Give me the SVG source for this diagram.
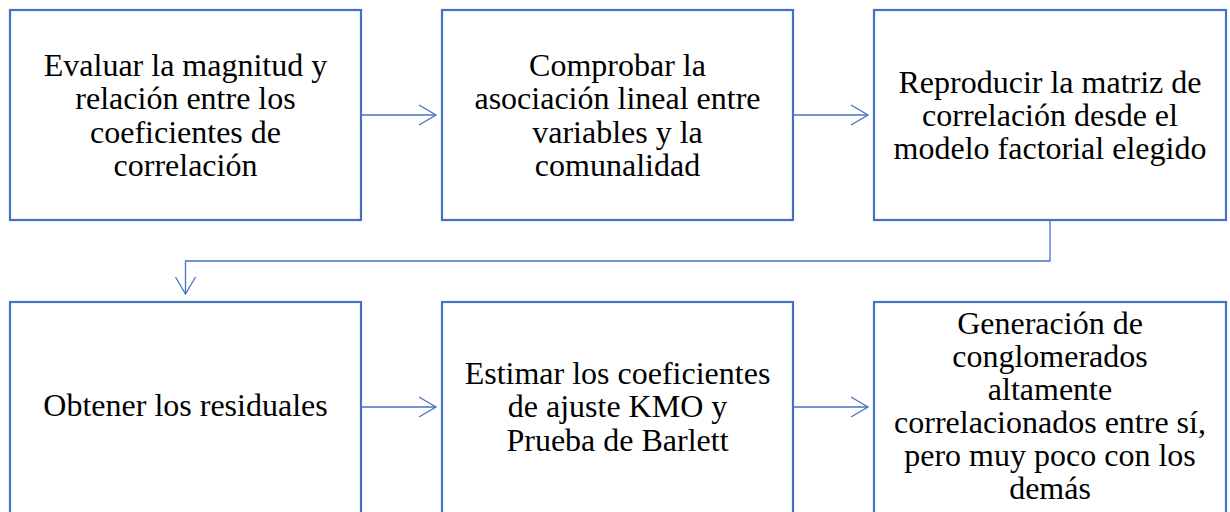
<svg xmlns="http://www.w3.org/2000/svg" width="1230" height="512" viewBox="0 0 1230 512">
<defs>
<marker id="arr" markerUnits="userSpaceOnUse" markerWidth="24" markerHeight="24" viewBox="-20 -12 24 24" refX="0" refY="0" orient="auto">
<path d="M-17,-10 L0,0 L-17,10" fill="none" stroke="#4472C4" stroke-width="1.3"/>
</marker>
</defs>
<style>
.box{fill:#fff;stroke:#4472C4;stroke-width:2.2}
.t{font-family:"Liberation Serif","Times New Roman",serif;font-size:32px;fill:#000;text-anchor:middle}
.c{fill:none;stroke:#4472C4;stroke-width:1.3;marker-end:url(#arr)}
</style>
<rect width="1230" height="512" fill="#fff"/>
<g id="connectors">
<path class="c" d="M361,115 H436"/>
<path class="c" d="M793,115 H868"/>
<path class="c" d="M1050,221 V261 H185.5 V294"/>
<path class="c" d="M361,407 H436"/>
<path class="c" d="M793,407 H868"/>
</g>
<g id="n1">
<rect class="box" x="10" y="10" width="351" height="210"/>
<text class="t" x="185.5" y="76">Evaluar la magnitud y</text>
<text class="t" x="185.5" y="109.3">relación entre los</text>
<text class="t" x="185.5" y="142.6">coeficientes de</text>
<text class="t" x="185.5" y="176">correlación</text>
</g>
<g id="n2">
<rect class="box" x="442" y="10" width="351" height="210"/>
<text class="t" x="617.5" y="76">Comprobar la</text>
<text class="t" x="617.5" y="109.3">asociación lineal entre</text>
<text class="t" x="617.5" y="142.6">variables y la</text>
<text class="t" x="617.5" y="176">comunalidad</text>
</g>
<g id="n3">
<rect class="box" x="874" y="10" width="352" height="210"/>
<text class="t" x="1050" y="92.5">Reproducir la matriz de</text>
<text class="t" x="1050" y="125.8">correlación desde el</text>
<text class="t" x="1050" y="159.1">modelo factorial elegido</text>
</g>
<g id="n4">
<rect class="box" x="10" y="302" width="351" height="212"/>
<text class="t" x="185.5" y="416">Obtener los residuales</text>
</g>
<g id="n5">
<rect class="box" x="442" y="302" width="351" height="212"/>
<text class="t" x="617.5" y="384">Estimar los coeficientes</text>
<text class="t" x="617.5" y="417.3">de ajuste KMO y</text>
<text class="t" x="617.5" y="450.6">Prueba de Barlett</text>
</g>
<g id="n6">
<rect class="box" x="874" y="302" width="352" height="212"/>
<text class="t" x="1050" y="333.5">Generación de</text>
<text class="t" x="1050" y="366.5">conglomerados</text>
<text class="t" x="1050" y="399.5">altamente</text>
<text class="t" x="1050" y="432.5">correlacionados entre sí,</text>
<text class="t" x="1050" y="465.5">pero muy poco con los</text>
<text class="t" x="1050" y="498.5">demás</text>
</g>
</svg>
